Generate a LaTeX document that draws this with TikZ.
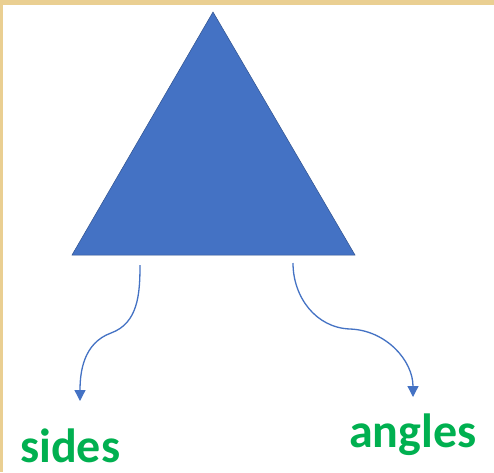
\documentclass[tikz,border=0pt]{standalone}
\usepackage{fontspec}
\setmainfont{Carlito}
\definecolor{TRIblue}{HTML}{4472C4}
\definecolor{TRIedge}{HTML}{2F528F}
\definecolor{TRIgreen}{HTML}{00B050}
\definecolor{TRIframe}{HTML}{EACF92}
\usetikzlibrary{arrows.meta, positioning}

\begin{document}
\begin{tikzpicture}[x=1pt, y=-1pt,
      link/.style={TRIblue, line width=1.3pt, -{Triangle[length=11pt, width=11pt]}},
      word/.style={TRIgreen, font=\fontsize{48}{48}\selectfont\bfseries, inner sep=0pt}]
      % frame and page
      \fill[TRIframe] (0,0) rectangle (494,472);
      \fill[white] (3,5) rectangle (494,472);
      \useasboundingbox (0,0) rectangle (494,472);
      % triangle
      \coordinate (apex) at (213,12);
      \coordinate (baseL) at (72,255);
      \coordinate (baseR) at (355,255);
      \filldraw[fill=TRIblue, draw=TRIedge, line width=0.5pt] (apex) -- (baseL) -- (baseR) -- cycle;
      % labels
      \node[word, anchor=base west] (sides) at (20,462) {sides};
      \node[word, anchor=base west] (angles) at (349,447) {angles};
      % connectors
      \coordinate (fromS) at (140,265);
      \coordinate (bendS) at (111,333);
      \coordinate (toS) at (80,401);
      \coordinate (fromA) at (293,263);
      \coordinate (bendA) at (350,329);
      \coordinate (toA) at (413,397);
      \draw[link] (fromS) to[out=-90, in=20] (bendS) to[out=200, in=90] (toS);
      \draw[link] (fromA) to[out=-90, in=178] (bendA) to[out=-2, in=90] (toA);
   \end{tikzpicture}
\end{document}
